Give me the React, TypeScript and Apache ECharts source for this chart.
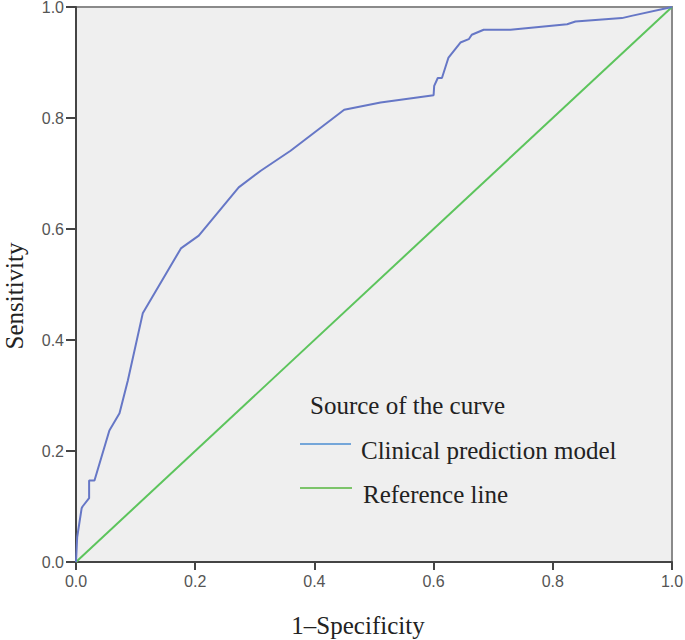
import React, { useEffect, useRef } from "react";
import * as echarts from "echarts";

const fpr = [0, 0.002, 0.0095, 0.011, 0.022, 0.022, 0.031, 0.056, 0.073, 0.087, 0.112, 0.176, 0.206, 0.273, 0.31, 0.36, 0.45, 0.511, 0.6, 0.601, 0.607, 0.614, 0.625, 0.645, 0.659, 0.664, 0.684, 0.729, 0.824, 0.838, 0.916, 0.932, 1.0];
const tpr = [0, 0.045, 0.097, 0.1, 0.115, 0.147, 0.147, 0.237, 0.268, 0.327, 0.448, 0.565, 0.588, 0.675, 0.705, 0.741, 0.815, 0.828, 0.841, 0.858, 0.872, 0.872, 0.909, 0.936, 0.942, 0.95, 0.959, 0.959, 0.969, 0.974, 0.98, 0.984, 1.0];
const refX = [0, 1];
const refY = [0, 1];
const legendTitle = "Source of the curve";
const seriesNames = ["Clinical prediction model", "Reference line"];
const xTitle = "1–Specificity";
const yTitle = "Sensitivity";

export default function App() {
  const ref = useRef<HTMLDivElement>(null);
  useEffect(() => {
    const chart = echarts.init(ref.current!, null, { renderer: "svg" });
    const serif = "'Liberation Serif', 'Times New Roman', serif";
    const sans = "'Liberation Sans', Arial, sans-serif";
    chart.setOption({
      animation: false,
      backgroundColor: "#ffffff",
      grid: {
        left: 76,
        top: 7,
        right: 13,
        bottom: 78,
        containLabel: false,
        outerBoundsMode: "none",
        show: true,
        backgroundColor: "#efefef",
        borderColor: "#8a8a8a",
        borderWidth: 2,
      },
      xAxis: {
        type: "value",
        min: 0,
        max: 1,
        interval: 0.2,
        axisLine: { show: true, onZero: false, lineStyle: { color: "#444", width: 2 } },
        axisTick: { show: true, length: 8, lineStyle: { color: "#444", width: 2 } },
        axisLabel: { formatter: (v: number) => v.toFixed(1), fontFamily: sans, fontSize: 16, color: "#555", margin: 11 },
        splitLine: { show: false },
      },
      yAxis: {
        type: "value",
        min: 0,
        max: 1,
        interval: 0.2,
        axisLine: { show: true, onZero: false, lineStyle: { color: "#444", width: 2 } },
        axisTick: { show: true, length: 10, lineStyle: { color: "#444", width: 2 } },
        axisLabel: { formatter: (v: number) => v.toFixed(1), fontFamily: sans, fontSize: 16, color: "#555", margin: 12 },
        splitLine: { show: false },
      },
      series: [
        {
          name: seriesNames[1],
          type: "line",
          data: refX.map((x, i) => [x, refY[i]]),
          showSymbol: false,
          lineStyle: { color: "#5cc45c", width: 2 },
        },
        {
          name: seriesNames[0],
          type: "line",
          data: fpr.map((x, i) => [x, tpr[i]]),
          showSymbol: false,
          lineStyle: { color: "#6677c6", width: 2 },
        },
      ],
      graphic: [
        { type: "text", x: 358, y: 625, style: { text: xTitle, fontFamily: serif, fontSize: 25, fill: "#222", align: "center", verticalAlign: "middle" } },
        { type: "text", x: 14, y: 296, rotation: Math.PI / 2, style: { text: yTitle, fontFamily: serif, fontSize: 25, fill: "#222", align: "center", verticalAlign: "middle" } },
        { type: "text", x: 310, y: 405, style: { text: legendTitle, fontFamily: serif, fontSize: 25, fill: "#222", verticalAlign: "middle" } },
        { type: "line", shape: { x1: 300, y1: 444, x2: 351, y2: 444 }, style: { stroke: "#74a6d9", lineWidth: 2 } },
        { type: "text", x: 361, y: 450, style: { text: seriesNames[0], fontFamily: serif, fontSize: 25, fill: "#222", verticalAlign: "middle" } },
        { type: "line", shape: { x1: 300, y1: 488, x2: 352, y2: 488 }, style: { stroke: "#7cc46a", lineWidth: 2 } },
        { type: "text", x: 363, y: 494, style: { text: seriesNames[1], fontFamily: serif, fontSize: 25, fill: "#222", verticalAlign: "middle" } },
      ],
    });
    return () => chart.dispose();
  }, []);
  return <div ref={ref} style={{ width: 685, height: 640, position: "absolute", left: 0, top: 0 }} />;
}
